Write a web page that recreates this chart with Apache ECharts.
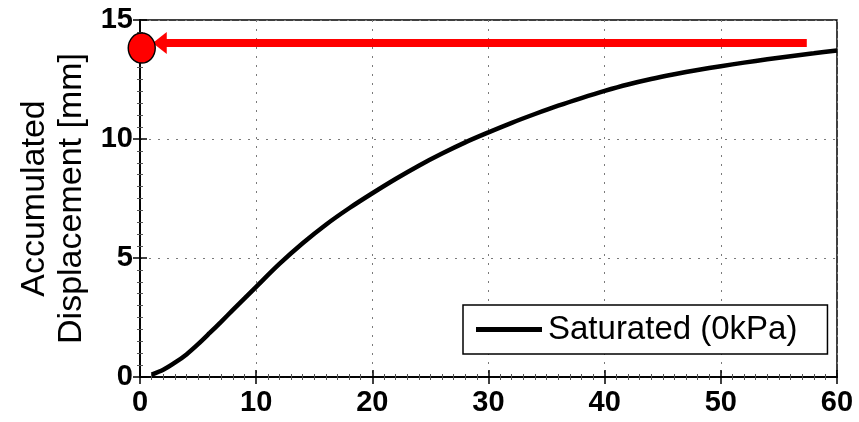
<!DOCTYPE html>
<html>
<head>
<meta charset="utf-8">
<script src="https://cdn.jsdelivr.net/npm/echarts@6/dist/echarts.min.js"></script>
<style>
  html, body { margin: 0; padding: 0; background: #fff; }
  #chart { width: 859px; height: 422px; }
</style>
</head>
<body>
<div id="chart"></div>
<script>
// Loading cycles (x) and accumulated displacement in mm (y)
const cycles = [1, 2, 3, 4, 5, 6, 7, 8, 9, 10, 12, 14, 16, 18, 20, 22, 24, 26, 28, 30,
                32, 34, 36, 38, 40, 42, 44, 46, 48, 50, 52, 54, 56, 58, 60];
const displacement = [0.1, 0.3, 0.6, 0.95, 1.38, 1.85, 2.33, 2.82, 3.3, 3.79, 4.75, 5.62, 6.4, 7.09, 7.72,
                      8.32, 8.88, 9.39, 9.86, 10.28, 10.68, 11.05, 11.4, 11.72, 12.02, 12.29, 12.52, 12.72,
                      12.9, 13.06, 13.21, 13.35, 13.48, 13.6, 13.72];
const seriesName = 'Saturated (0kPa)';

// Arrow running back toward the vertical axis, and the marker it points to
const arrowX = [57.4, 1.7];
const arrowY = [14.03, 14.03];
const markerX = [0.15];
const markerY = [13.82];

const xTicks = { min: 0, max: 60, interval: 10 };
const yTicks = { min: 0, max: 15, interval: 5 };

const curve = cycles.map((c, i) => [c, displacement[i]]);
const arrow = arrowX.map((x, i) => [x, arrowY[i]]);
const marker = markerX.map((x, i) => [x, markerY[i]]);

const FONT = '"Liberation Sans", Arial, Helvetica, sans-serif';
const gridDots = { show: true, lineStyle: { color: '#7a7a7a', width: 1, type: [2, 7] } };
const tickStyle = { show: true, inside: true, length: 7, lineStyle: { color: '#000', width: 1.5 } };
const minorStyle = { show: true, length: 3, lineStyle: { color: '#555', width: 1 } };

const chart = echarts.init(document.getElementById('chart'), null, { renderer: 'canvas' });
chart.setOption({
  animation: false,
  backgroundColor: '#fff',
  grid: {
    left: 140, top: 20, right: 22, bottom: 45,
    containLabel: false, outerBoundsMode: 'none',
    show: true, borderColor: '#000', borderWidth: 1.5, backgroundColor: 'transparent'
  },
  legend: {
    data: [{ name: seriesName, icon: 'rect' }],
    left: 463, top: 305,
    padding: [8, 30, 8, 13],
    itemWidth: 66, itemHeight: 5,
    backgroundColor: '#fff',
    borderColor: '#000', borderWidth: 1.5,
    textStyle: { fontFamily: FONT, fontSize: 33, color: '#000', padding: [2, 0, 0, 1] }
  },
  xAxis: [{
    type: 'value', position: 'bottom', ...xTicks,
    axisLine: { show: true, lineStyle: { color: '#000', width: 1.5 } },
    axisTick: tickStyle, minorTick: { ...minorStyle, splitNumber: 10 },
    splitLine: gridDots,
    axisLabel: { fontFamily: FONT, fontSize: 29, fontWeight: 'bold', color: '#000', margin: 11 }
  }, {
    type: 'value', position: 'top', ...xTicks,
    axisLine: { show: true, lineStyle: { color: '#000', width: 1.5 } },
    axisTick: tickStyle, minorTick: { ...minorStyle, splitNumber: 10 },
    splitLine: { show: false }, axisLabel: { show: false }
  }],
  yAxis: [{
    type: 'value', position: 'left', ...yTicks,
    name: 'Accumulated\nDisplacement [mm]',
    nameLocation: 'middle', nameGap: 50,
    nameTextStyle: { fontFamily: FONT, fontSize: 34, color: '#000', lineHeight: 37 },
    axisLine: { show: true, lineStyle: { color: '#000', width: 1.5 } },
    axisTick: tickStyle, minorTick: { ...minorStyle, splitNumber: 10 },
    splitLine: gridDots,
    axisLabel: { fontFamily: FONT, fontSize: 29, fontWeight: 'bold', color: '#000', margin: 7 }
  }, {
    type: 'value', position: 'right', ...yTicks,
    axisLine: { show: true, lineStyle: { color: '#000', width: 1.5 } },
    axisTick: tickStyle, minorTick: { ...minorStyle, splitNumber: 10 },
    splitLine: { show: false }, axisLabel: { show: false }
  }],
  series: [{
    name: seriesName,
    type: 'line',
    data: curve,
    smooth: 0.3,
    showSymbol: false,
    symbol: 'none',
    color: '#000',
    lineStyle: { color: '#000', width: 4.5 },
    z: 3
  }, {
    name: 'arrow',
    type: 'line',
    data: [
      { value: arrow[0], symbol: 'none' },
      { value: arrow[1], symbol: 'triangle', symbolRotate: 90, symbolSize: [22, 14] }
    ],
    showSymbol: true,
    clip: false,
    color: '#ff0000',
    lineStyle: { color: '#ff0000', width: 8, cap: 'butt' },
    itemStyle: { color: '#ff0000', borderWidth: 0 },
    z: 5
  }, {
    name: 'marker',
    type: 'scatter',
    data: marker,
    symbol: 'circle',
    symbolSize: [27, 30],
    clip: false,
    itemStyle: { color: '#ff0000', borderColor: '#000', borderWidth: 1.5, opacity: 1 },
    z: 10,
    zlevel: 1
  }]
});
</script>
</body>
</html>
